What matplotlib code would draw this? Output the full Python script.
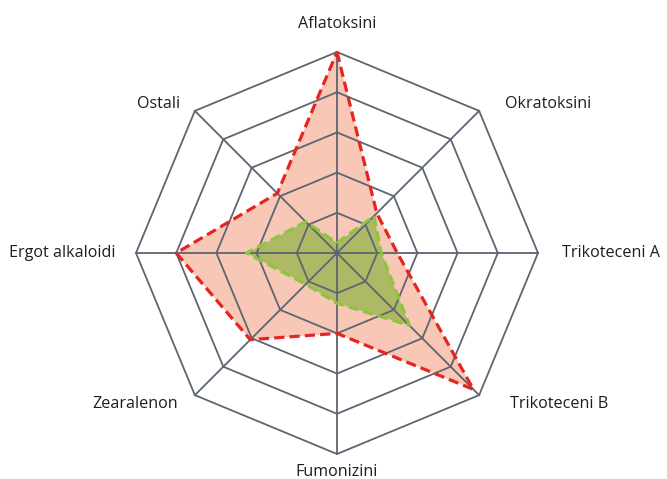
import numpy as np
import matplotlib
matplotlib.use("Agg")
import matplotlib.pyplot as plt

plt.rcParams['font.family'] = ['Open Sans', 'DejaVu Sans']

categories = ["Aflatoksini", "Okratoksini", "Trikoteceni A", "Trikoteceni B",
              "Fumonizini", "Zearalenon", "Ergot alkaloidi", "Ostali"]
red_vals = [1.0, 0.28, 0.30, 0.96, 0.40, 0.61, 0.80, 0.42]
green_vals = [0.05, 0.26, 0.22, 0.51, 0.25, 0.22, 0.45, 0.22]
levels = [0.2, 0.4, 0.6, 0.8, 1.0]

W, H = 667, 479
cx, cy, R = 337, 253, 201

fig = plt.figure(figsize=(W / 100, H / 100), dpi=100)
ax = fig.add_axes([0, 0, 1, 1])
ax.set_xlim(-cx / R, (W - cx) / R)
ax.set_ylim(-(H - cy) / R, cy / R)
ax.set_aspect('equal')
ax.axis('off')

n = len(categories)
ang = np.pi / 2 - np.arange(n) * 2 * np.pi / n


def xy(vals):
    v = np.asarray(vals)
    x = v * np.cos(ang)
    y = v * np.sin(ang)
    return np.append(x, x[0]), np.append(y, y[0])


# fills
rx, ry = xy(red_vals)
gx, gy = xy(green_vals)
ax.fill(rx, ry, color='#f8c7b6', zorder=1, lw=0)
ax.fill(gx, gy, color='#aeb965', zorder=2, lw=0)

# grid
grid_c = '#5d6571'
for lv in levels:
    ox, oy = xy([lv] * n)
    ax.plot(ox, oy, color=grid_c, lw=1.3, zorder=3)
for a in ang:
    ax.plot([0, np.cos(a)], [0, np.sin(a)], color=grid_c, lw=1.3, zorder=3)

# series outlines
ax.plot(rx, ry, color='#e52521', lw=2.3, ls=(0, (3.2, 1.6)), zorder=4)
ax.plot(gx, gy, color='#8cc63f', lw=2.3, ls=(0, (3.2, 1.6)), zorder=5)

# labels: (x, y, ha)
label_pos = [
    (0.0, 1.14, 'center'),
    (0.835, 0.74, 'left'),
    (1.12, 0.0, 'left'),
    (0.86, -0.75, 'left'),
    (0.0, -1.09, 'center'),
    (-0.79, -0.75, 'right'),
    (-1.1, 0.0, 'right'),
    (-0.78, 0.74, 'right'),
]
for c, (x, y, ha) in zip(categories, label_pos):
    ax.text(x, y, c, ha=ha, va='center', fontsize=11.6, color='#1e1e1e')

fig.savefig('out.png', dpi=100)
